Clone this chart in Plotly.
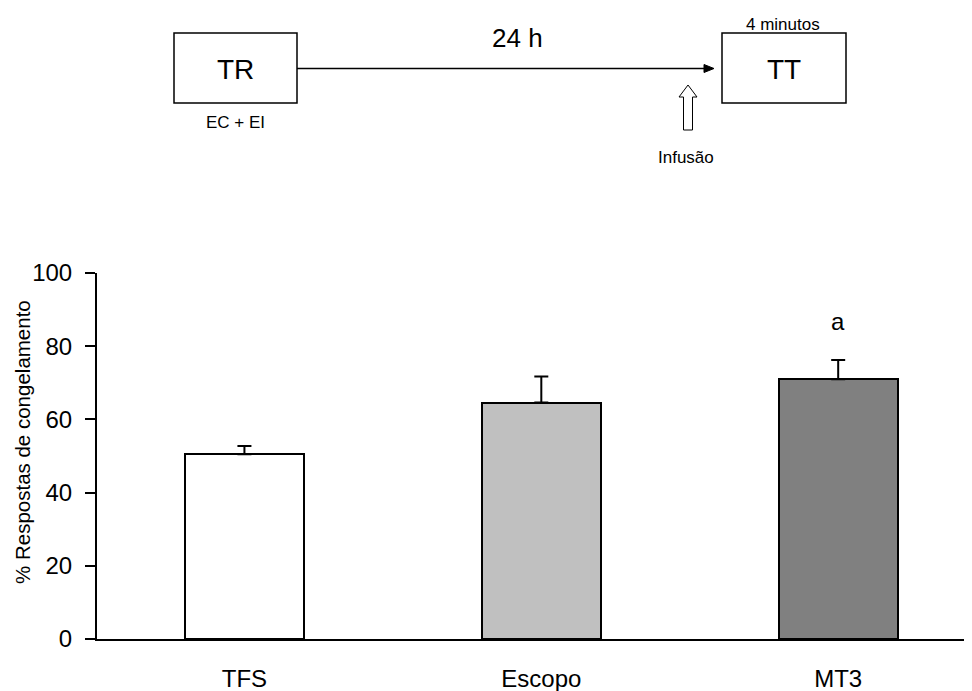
import plotly.graph_objects as go

# ---- data ----
categories = ["TFS", "Escopo", "MT3"]
means = [50.5, 64.6, 71.0]
sem = [2.2, 7.1, 5.2]
bar_colors = ["#ffffff", "#c0c0c0", "#808080"]
y_ticks = [0, 20, 40, 60, 80, 100]
sig_labels = ["", "", "a"]
y_title = "% Respostas de congelamento"

FONT = "Arial, 'Liberation Sans', sans-serif"

OFF = 8  # page body margin
W, H = 972 - OFF, 691 - OFF
L, R, T, B = 97 - OFF, 970 - OFF, 273 - OFF, 639 - OFF  # plot area in figure pixels


def px(x):
    # x given in page pixels
    return (x - OFF - L) / (R - L)


def py(y):
    return (B - (y - OFF)) / (B - T)


xpos = list(range(len(categories)))

fig = go.Figure()
fig.add_trace(go.Bar(
    x=xpos, y=means, width=0.40,
    marker=dict(color=bar_colors, line=dict(color="black", width=2)),
    error_y=dict(type="data", symmetric=False, array=sem, arrayminus=[0] * len(sem),
                 color="black", thickness=2, width=7),
    showlegend=False,
))

# significance letter
for i, (m, s, lab) in enumerate(zip(means, sem, sig_labels)):
    if lab:
        fig.add_annotation(x=xpos[i], y=m + s + 10.5, text=lab, showarrow=False,
                           font=dict(family=FONT, size=24, color="black"),
                           xref="x", yref="y")

shapes = []
# diagram boxes
for (x0, x1) in [(174, 297), (722, 846)]:
    shapes.append(dict(type="rect", xref="paper", yref="paper",
                       x0=px(x0), x1=px(x1), y0=py(103), y1=py(33),
                       line=dict(color="black", width=1.5), fillcolor="white"))
# main arrow line
shapes.append(dict(type="line", xref="paper", yref="paper",
                   x0=px(297), x1=px(706), y0=py(68.5), y1=py(68.5),
                   line=dict(color="black", width=1.5)))
# arrow head
shapes.append(dict(type="path", xref="paper", yref="paper",
                   path=f"M {px(704)} {py(64.5)} L {px(714)} {py(68.5)} L {px(704)} {py(72.5)} Z",
                   fillcolor="black", line=dict(color="black", width=1)))
# hollow up arrow
pts = [(683.5, 130), (683.5, 97), (679, 97), (688, 85), (697, 97), (692.5, 97), (692.5, 130)]
path = "M " + " L ".join(f"{px(a)} {py(b)}" for a, b in pts) + " Z"
shapes.append(dict(type="path", xref="paper", yref="paper", path=path,
                   fillcolor="white", line=dict(color="black", width=1)))

texts = [
    ("TR", 235.5, 70, 28),
    ("EC + EI", 235, 122, 17),
    ("24 h", 517, 38, 26),
    ("4 minutos", 783, 25, 17),
    ("TT", 784, 70, 28),
    ("Infusão", 686, 157, 17),
]
for t, x, y, s in texts:
    fig.add_annotation(x=px(x), y=py(y), xref="paper", yref="paper", text=t,
                       showarrow=False, xanchor="center", yanchor="middle",
                       font=dict(family=FONT, size=s, color="black"))

# y-axis title as rotated annotation
fig.add_annotation(x=px(22), y=py(442), xref="paper", yref="paper", text=y_title,
                   showarrow=False, textangle=-90, xanchor="center", yanchor="middle",
                   font=dict(family=FONT, size=20.5, color="black"))

fig.update_layout(
    width=W, height=H,
    margin=dict(l=L, r=W - R, t=T, b=H - B),
    paper_bgcolor="white", plot_bgcolor="white",
    shapes=shapes,
    font=dict(family=FONT, color="black"),
    bargap=0,
)
fig.update_xaxes(
    range=[-0.4966, 2.444], tickvals=xpos, ticktext=categories,
    showline=True, linecolor="black", linewidth=2, ticks="",
    showgrid=False, zeroline=False, automargin=False,
    tickfont=dict(family=FONT, size=24, color="black"),
    ticklabelstandoff=17,
)
fig.update_yaxes(
    range=[0, 100], tickvals=y_ticks,
    showline=True, linecolor="black", linewidth=2,
    ticks="outside", ticklen=10, tickwidth=1.5, tickcolor="black",
    showgrid=False, zeroline=False, automargin=False,
    tickfont=dict(family=FONT, size=24, color="black"),
    ticklabelstandoff=8,
)

fig.write_html("out.html")
